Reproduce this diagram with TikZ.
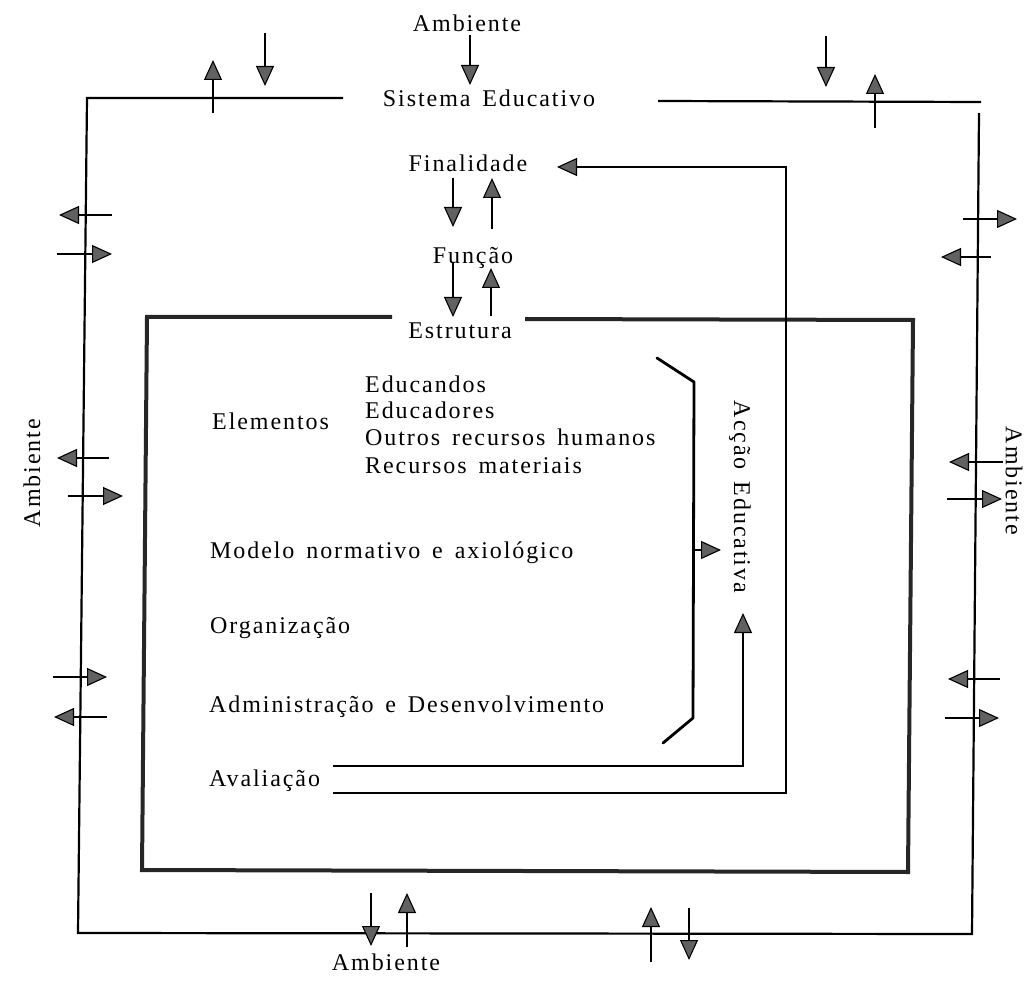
\documentclass[tikz,border=0pt]{standalone}
\usepackage{fontspec}
\setmainfont{Liberation Serif}[LetterSpace=8,WordSpace=1.5]
\usetikzlibrary{arrows.meta}
\begin{document}
\begin{tikzpicture}[x=1pt,y=-1pt,
  lbl/.style={font=\fontsize{24}{28}\selectfont, inner sep=0pt},
  frame/.style={line width=2.2pt, line join=miter},
  innerframe/.style={line width=4pt, draw=black!85, line join=miter},
  arr/.style={line width=2.4pt, -{Triangle[length=20pt,width=18pt,fill=black!62,line width=1.1pt]}},
  brk/.style={line width=2.8pt, line cap=round, line join=round},
]
\useasboundingbox (0,0) rectangle (1028,981);

% outer frame
\coordinate (oTL) at (87,98);
\coordinate (oTLe) at (343,98);
\coordinate (oTRs) at (658,101);
\coordinate (oTRe) at (981,102);
\coordinate (oRt) at (979,113);
\coordinate (oBR) at (972,934);
\coordinate (oBL) at (78,933);
\draw[frame] (oTLe) -- (oTL) -- (oBL) -- (oBR) -- (oRt);
\draw[frame] (oTRs) -- (oTRe);

% inner frame
\coordinate (iTLe) at (392,317);
\coordinate (iTL) at (147,317);
\coordinate (iBL) at (142,870);
\coordinate (iBR) at (908,872);
\coordinate (iTR) at (913,320);
\coordinate (iTRs) at (525,319);
\draw[innerframe] (iTLe) -- (iTL) -- (iBL) -- (iBR) -- (iTR) -- (iTRs);

% labels
\node[lbl, anchor=base] (ambT) at (467,32) {Ambiente};
\node[lbl, anchor=base] (sis) at (489,107) {Sistema Educativo};
\node[lbl, anchor=base] (fin) at (468,172) {Finalidade};
\node[lbl, anchor=base] (fun) at (473,264) {Função};
\node[lbl, anchor=base] (est) at (460,339) {Estrutura};
\node[lbl, anchor=base west] (ele) at (212,429) {Elementos};
\node[lbl, anchor=base west] (edc) at (365,392) {Educandos};
\node[lbl, anchor=base west] (edr) at (365,418) {Educadores};
\node[lbl, anchor=base west] (orh) at (365,446) {Outros recursos humanos};
\node[lbl, anchor=base west] (rma) at (365,473) {Recursos materiais};
\node[lbl, anchor=base west] (mod) at (210,558) {Modelo normativo e axiológico};
\node[lbl, anchor=base west] (org) at (210,633) {Organização};
\node[lbl, anchor=base west] (adm) at (209,712) {Administração e Desenvolvimento};
\node[lbl, anchor=base west] (ava) at (209,786) {Avaliação};
\node[lbl, anchor=base] (ambB) at (386,970) {Ambiente};
\node[lbl, rotate=90] (ambL) at (32,473) {Ambiente};
\node[lbl, rotate=-90] (ambR) at (1014,481) {Ambiente};
\node[lbl, rotate=-90] (acc) at (740,497) {Acção Educativa};

% bracket
\coordinate (b1) at (657,358);
\coordinate (b2) at (694,382);
\coordinate (b3) at (693,718);
\coordinate (b4) at (663,743);
\draw[brk] (b1) -- (b2) -- (b3) -- (b4);
\coordinate (ba) at (694,550);
\coordinate (bb) at (721,550);
\draw[arr] (ba) -- (bb);

% avaliacao loops
\coordinate (av1) at (333,766);
\coordinate (av1c) at (743,766);
\coordinate (av1t) at (743,613);
\draw[arr] (av1) -- (av1c) -- (av1t);
\coordinate (av2) at (333,793);
\coordinate (av2c) at (786,793);
\coordinate (av2u) at (786,167);
\coordinate (av2t) at (557,167);
\draw[arr] (av2) -- (av2c) -- (av2u) -- (av2t);

% central chain
\coordinate (c1) at (470,35);  \coordinate (c2) at (470,85);
\draw[arr] (c1) -- (c2);
\coordinate (f1) at (453,178); \coordinate (f2) at (453,227);
\draw[arr] (f1) -- (f2);
\coordinate (f3) at (492,229); \coordinate (f4) at (492,178);
\draw[arr] (f3) -- (f4);
\coordinate (g1) at (453,263); \coordinate (g2) at (453,317);
\draw[arr] (g1) -- (g2);
\coordinate (g3) at (491,316); \coordinate (g4) at (491,268);
\draw[arr] (g3) -- (g4);

% top exchanges
\coordinate (t1a) at (213,113); \coordinate (t1b) at (213,60);
\draw[arr] (t1a) -- (t1b);
\coordinate (t2a) at (265,33); \coordinate (t2b) at (265,86);
\draw[arr] (t2a) -- (t2b);
\coordinate (t3a) at (826,36); \coordinate (t3b) at (826,87);
\draw[arr] (t3a) -- (t3b);
\coordinate (t4a) at (875,128); \coordinate (t4b) at (875,74);
\draw[arr] (t4a) -- (t4b);

% left exchanges
\coordinate (l1a) at (112,215); \coordinate (l1b) at (59,215);
\draw[arr] (l1a) -- (l1b);
\coordinate (l2a) at (57,254); \coordinate (l2b) at (112,254);
\draw[arr] (l2a) -- (l2b);
\coordinate (l3a) at (109,458); \coordinate (l3b) at (57,458);
\draw[arr] (l3a) -- (l3b);
\coordinate (l4a) at (68,496); \coordinate (l4b) at (123,496);
\draw[arr] (l4a) -- (l4b);
\coordinate (l5a) at (53,677); \coordinate (l5b) at (107,677);
\draw[arr] (l5a) -- (l5b);
\coordinate (l6a) at (107,717); \coordinate (l6b) at (54,717);
\draw[arr] (l6a) -- (l6b);

% right exchanges
\coordinate (r1a) at (963,219); \coordinate (r1b) at (1017,219);
\draw[arr] (r1a) -- (r1b);
\coordinate (r2a) at (991,257); \coordinate (r2b) at (941,257);
\draw[arr] (r2a) -- (r2b);
\coordinate (r3a) at (1003,462); \coordinate (r3b) at (949,462);
\draw[arr] (r3a) -- (r3b);
\coordinate (r4a) at (947,499); \coordinate (r4b) at (1002,499);
\draw[arr] (r4a) -- (r4b);
\coordinate (r5a) at (1000,679); \coordinate (r5b) at (948,679);
\draw[arr] (r5a) -- (r5b);
\coordinate (r6a) at (945,718); \coordinate (r6b) at (999,718);
\draw[arr] (r6a) -- (r6b);

% bottom exchanges
\coordinate (d1a) at (371,893); \coordinate (d1b) at (371,946);
\draw[arr] (d1a) -- (d1b);
\coordinate (d2a) at (407,947); \coordinate (d2b) at (407,893);
\draw[arr] (d2a) -- (d2b);
\coordinate (d3a) at (651,962); \coordinate (d3b) at (651,907);
\draw[arr] (d3a) -- (d3b);
\coordinate (d4a) at (689,908); \coordinate (d4b) at (689,960);
\draw[arr] (d4a) -- (d4b);
\end{tikzpicture}
\end{document}
